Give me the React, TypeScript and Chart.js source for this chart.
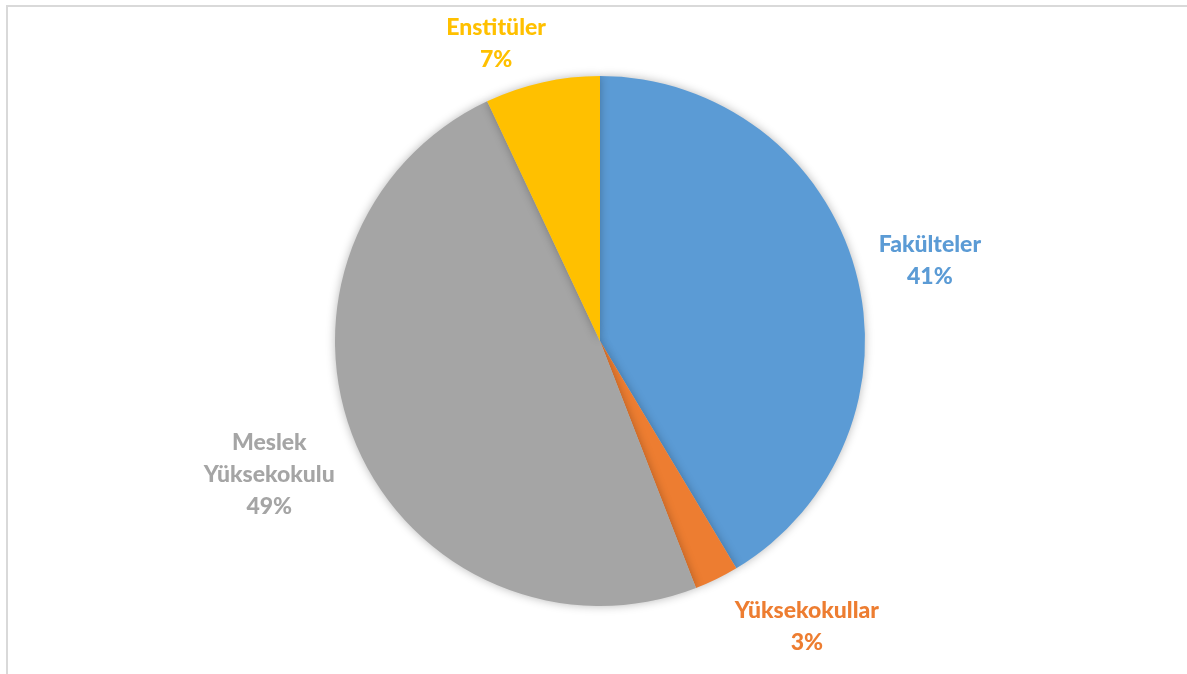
import React, { useEffect, useRef } from "react";
import { Chart, registerables } from "chart.js";

Chart.register(...registerables);

const categories: (string | string[])[] = ["Fakülteler", "Yüksekokullar", ["Meslek", "Yüksekokulu"], "Enstitüler"];
const shares = [41.4, 2.7, 48.9, 7.0];
const sliceColors = ["#5B9BD5", "#ED7D31", "#A5A5A5", "#FFC000"];

const FONT = "900 23px Lato, 'Noto Sans', sans-serif";
const LINE_H = 32;
const GAP = 24;
const nudges = [
  [2, 5],
  [48, -3],
  [-5, 1],
  [-30, 16],
];

const shadowPlugin = {
  id: "pieShadow",
  beforeDatasetsDraw(chart: any) {
    const ctx = chart.ctx;
    ctx.save();
    ctx.shadowColor = "rgba(0,0,0,0.28)";
    ctx.shadowBlur = 10;
    ctx.shadowOffsetX = 0;
    ctx.shadowOffsetY = 0;
  },
  afterDatasetsDraw(chart: any) {
    chart.ctx.restore();
  },
};

const labelPlugin = {
  id: "outerLabels",
  afterDraw(chart: any) {
    const ctx = chart.ctx;
    const meta = chart.getDatasetMeta(0);
    const data = chart.data.datasets[0].data as number[];
    const total = data.reduce((a, b) => a + b, 0);
    ctx.save();
    ctx.font = FONT;
    ctx.textAlign = "center";
    ctx.textBaseline = "middle";
    meta.data.forEach((arc: any, i: number) => {
      const p = arc.getProps(["x", "y", "startAngle", "endAngle", "outerRadius"], true);
      const mid = (p.startAngle + p.endAngle) / 2;
      const ux = Math.cos(mid);
      const uy = Math.sin(mid);
      const lab = chart.data.labels[i];
      const lines: string[] = (Array.isArray(lab) ? lab.slice() : [lab]) as string[];
      lines.push(Math.round((data[i] / total) * 100) + "%");
      const w = Math.max(...lines.map((l) => ctx.measureText(l).width));
      const h = lines.length * LINE_H;
      const cx = p.x + ux * (p.outerRadius + GAP) + (ux * w) / 2 + nudges[i][0];
      const cy = p.y + uy * (p.outerRadius + GAP) + (uy * h) / 2 + nudges[i][1];
      ctx.fillStyle = sliceColors[i];
      lines.forEach((l, k) => {
        ctx.fillText(l, cx, cy - h / 2 + LINE_H * (k + 0.5));
      });
    });
    ctx.restore();
  },
};

export default function App() {
  const ref = useRef<HTMLCanvasElement>(null);
  useEffect(() => {
    if (!ref.current) return;
    const chart = new Chart(ref.current, {
      type: "pie",
      data: {
        labels: categories as any,
        datasets: [
          {
            data: shares,
            backgroundColor: sliceColors,
            borderColor: "#ffffff",
            borderWidth: 0,
          },
        ],
      },
      options: {
        animation: false,
        responsive: true,
        maintainAspectRatio: false,
        layout: { padding: { left: 335, right: 322, top: 76, bottom: 68 } },
        plugins: {
          legend: { display: false },
          tooltip: { enabled: false },
        },
      },
      plugins: [shadowPlugin, labelPlugin],
    });
    return () => chart.destroy();
  }, []);
  return (
    <div style={{ position: "absolute", left: 0, top: 0, width: 1187, height: 674, background: "#fff" }}>
      <div
        style={{
          position: "absolute",
          left: 6,
          top: 5,
          width: 1200,
          height: 700,
          borderTop: "2px solid #d9d9d9",
          borderLeft: "2px solid #d9d9d9",
        }}
      />
      <div style={{ position: "absolute", left: 0, top: 0, width: 1187, height: 674 }}>
        <canvas ref={ref} />
      </div>
    </div>
  );
}
